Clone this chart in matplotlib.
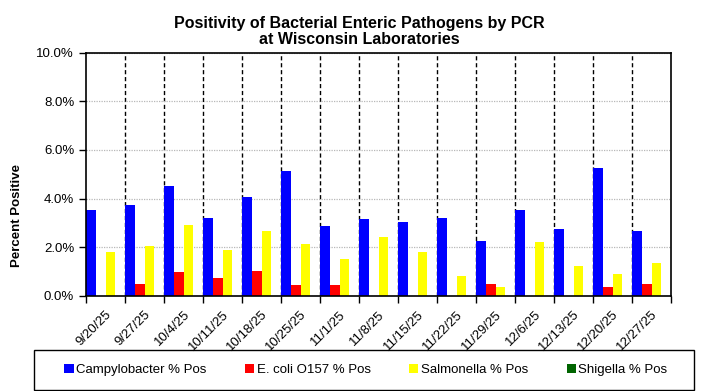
import matplotlib
matplotlib.use('Agg')
import matplotlib.pyplot as plt
import matplotlib.patches as mpatches
import numpy as np

plt.rcParams['font.family'] = ['Liberation Sans', 'DejaVu Sans']

weeks = ['9/20/25', '9/27/25', '10/4/25', '10/11/25', '10/18/25', '10/25/25', '11/1/25',
         '11/8/25', '11/15/25', '11/22/25', '11/29/25', '12/6/25', '12/13/25', '12/20/25',
         '12/27/25']
campylobacter = [3.54, 3.74, 4.53, 3.21, 4.07, 5.14, 2.88, 3.17, 3.04, 3.21, 2.26, 3.54, 2.76, 5.27, 2.67]
ecoli = [0, 0.49, 0.99, 0.74, 1.03, 0.45, 0.45, 0, 0, 0, 0.49, 0, 0, 0.37, 0.49]
salmonella = [1.81, 2.06, 2.92, 1.89, 2.67, 2.14, 1.52, 2.43, 1.81, 0.82, 0.37, 2.22, 1.23, 0.91, 1.36]
shigella = [0] * 15

series = [
    ('Campylobacter % Pos', campylobacter, '#0000ff'),
    ('E. coli O157 % Pos', ecoli, '#ff0000'),
    ('Salmonella % Pos', salmonella, '#ffff00'),
    ('Shigella % Pos', shigella, '#006400'),
]

W, H = 704, 391
fig = plt.figure(figsize=(W / 100, H / 100), dpi=100)
ax = fig.add_axes([86 / W, 1 - 296 / H, 585 / W, 243.5 / H])

n = len(weeks)
x = np.arange(n)
w = 0.25
for k, (name, vals, col) in enumerate(series):
    ax.bar(x + k * w, vals, width=w, align='edge', color=col, label=name,
           linewidth=0, zorder=2)

ax.set_xlim(0, n)
ax.set_ylim(0, 10)
ax.set_yticks(np.arange(0, 10.1, 2))
ax.set_yticklabels(['%.1f%%' % v for v in np.arange(0, 10.1, 2)], fontsize=9.5)
ax.yaxis.grid(True, color='#b8b8b8', linestyle=(0, (1, 1)), linewidth=0.9, zorder=0)

# category boundaries: ticks + dashed separators
ax.set_xticks(np.arange(0, n + 1))
ax.set_xticklabels([])
ax.set_xticks(x + 0.5, minor=True)
ax.set_xticklabels(weeks, minor=True, rotation=45, ha='right', rotation_mode='anchor', fontsize=9.5)
ax.tick_params(axis='x', which='minor', length=0, pad=9)
ax.tick_params(axis='x', which='major', length=5, width=1, direction='out')
ax.tick_params(axis='y', length=5, width=1, direction='out')
for b in range(1, n):
    ax.axvline(b, color='black', linestyle=(0, (3, 2)), linewidth=1, zorder=1.5)

for s in ax.spines.values():
    s.set_linewidth(1.2)
    s.set_color('black')
    s.set_zorder(3)

ax.set_ylabel('Percent Positive', fontsize=9.5, fontweight='bold')
ax.yaxis.set_label_coords(-0.108, 0.33)
fig.suptitle('Positivity of Bacterial Enteric Pathogens by PCR\nat Wisconsin Laboratories',
             fontsize=11.5, fontweight='bold', y=0.96, x=0.51, linespacing=1.1)

# legend box like the excel one
fig.patches.append(mpatches.Rectangle((34 / W, 1 - 390 / H), 660 / W, 40 / H,
                                      transform=fig.transFigure, fill=False,
                                      edgecolor='black', linewidth=1.0))
fig.legend(loc='center', bbox_to_anchor=(366 / W, 1 - 370 / H), ncol=4,
           frameon=False, fontsize=9.5,
           handlelength=0.7, handleheight=0.7, handletextpad=0.2,
           columnspacing=2.9)

fig.savefig('out.png', dpi=100)
